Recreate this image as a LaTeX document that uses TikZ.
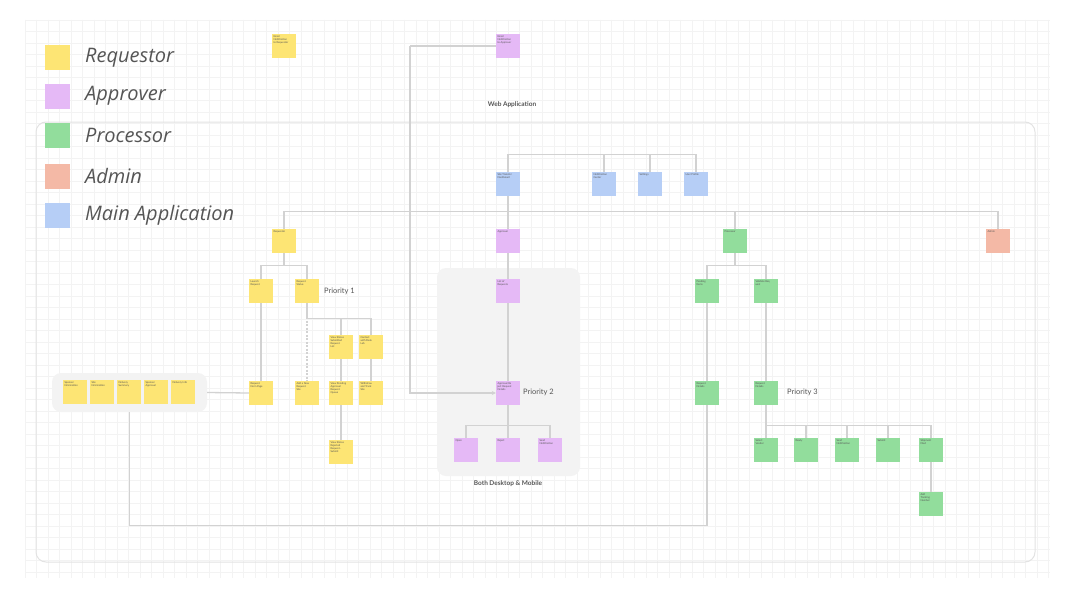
\documentclass[tikz,border=0pt]{standalone}
\usepackage{fontspec}
\setmainfont{Lato}
\newfontfamily\legfont{Open Sans}
\usetikzlibrary{arrows.meta}
\definecolor{cyel}{HTML}{FDE574}
\definecolor{cpur}{HTML}{E5B9F6}
\definecolor{cgrn}{HTML}{92DD9C}
\definecolor{csal}{HTML}{F4B9A6}
\definecolor{cblu}{HTML}{B6CEF6}
\definecolor{cline}{HTML}{D2D2D2}
\definecolor{cgrid}{HTML}{F3F3F3}
\definecolor{cframe}{HTML}{E3E3E3}
\definecolor{cgroup}{HTML}{F3F3F3}
\definecolor{ctxt}{HTML}{555555}
\newcommand\stk[1]{\parbox[t][21pt][t]{21pt}{\raggedright\fontsize{2.6}{3.1}\selectfont #1}}
\tikzset{
  sticky/.style={rectangle, minimum width=24pt, minimum height=24pt, inner sep=0pt, text=ctxt},
  ys/.style={sticky, fill=cyel},
  ps/.style={sticky, fill=cpur},
  gs/.style={sticky, fill=cgrn},
  ss/.style={sticky, fill=csal},
  bs/.style={sticky, fill=cblu},
  conn/.style={draw=cline, line width=1.3pt},
  legbox/.style={rectangle, minimum width=25pt, minimum height=25pt, inner sep=0pt},
  legtxt/.style={anchor=west, inner sep=0pt, text=ctxt, font=\legfont\fontsize{20}{22}\selectfont\itshape},
  lbl/.style={inner sep=0pt, text=ctxt, font=\fontsize{6.5}{8}\selectfont},
  prio/.style={inner sep=0pt, text=ctxt, font=\fontsize{7.5}{9}\selectfont}
}
\begin{document}
\begin{tikzpicture}[x=1pt,y=-1pt]
\useasboundingbox (0,0) rectangle (1078,602);
\fill[white] (0,0) rectangle (1078,602);
% grid background
\foreach \gx in {25,36.5,...,1050} {\draw[cgrid, line width=0.5pt] (\gx,20) -- (\gx,578);}
\foreach \gy in {20,31.5,...,578} {\draw[cgrid, line width=0.5pt] (25,\gy) -- (1050,\gy);}
% outer frame
\draw[cframe, line width=1pt, rounded corners=10pt] (36,122) rectangle (1035,562);
% group boxes
\node[fill=cgroup, rounded corners=9pt, minimum width=143pt, minimum height=208pt, inner sep=0pt] (agrp) at (508.5,372) {};
\node[fill=cgroup, rounded corners=9pt, minimum width=155pt, minimum height=39pt, inner sep=0pt] (lgrp) at (129.5,392.5) {};
% legend
\node[legbox, fill=cyel] (l1) at (57.5,57.5) {};
\node[legbox, fill=cpur] (l2) at (57.5,96) {};
\node[legbox, fill=cgrn] (l3) at (57.5,135) {};
\node[legbox, fill=csal] (l4) at (57.5,176) {};
\node[legbox, fill=cblu] (l5) at (57.5,215) {};
\node[legtxt] (t1) at (85,57.5) {Requestor};
\node[legtxt] (t2) at (85,96) {Approver};
\node[legtxt] (t3) at (85,135) {Processor};
\node[legtxt] (t4) at (85,176) {Admin};
\node[legtxt] (t5) at (85,215) {Main Application};
% labels
\node[lbl, font=\fontsize{6.5}{8}\selectfont\bfseries] (webapp) at (512,105) {Web Application};
\node[lbl, font=\fontsize{6.5}{8}\selectfont\bfseries] (both) at (508,484) {Both Desktop \& Mobile};
\node[prio, anchor=west] (p1) at (324,291) {Priority 1};
\node[prio, anchor=west] (p2) at (523,392) {Priority 2};
\node[prio, anchor=west] (p3) at (787,392) {Priority 3};
% top stickies
\node[ys] (tl) at (284,46) {\stk{Email\\Notification\\to Requestor}};
\node[ps] (ea) at (508,46) {\stk{Email\\Notification\\to Approver}};
% blue row
\node[bs] (b1) at (508,184) {\stk{Site Transfer\\Dashboard}};
\node[bs] (b2) at (604,184) {\stk{Notification\\Center}};
\node[bs] (b3) at (650,184) {\stk{Settings}};
\node[bs] (b4) at (696,184) {\stk{User Profile}};
% level row
\node[ys] (req) at (284,241) {\stk{Requestor}};
\node[ps] (appr) at (508,241) {\stk{Approver}};
\node[gs] (proc) at (735,241) {\stk{Processor}};
\node[ss] (admin) at (998,241) {\stk{Admin}};
% requestor subtree
\node[ys] (rA) at (261,291) {\stk{Launch\\Request}};
\node[ys] (rB) at (307,291) {\stk{Request\\Status}};
\node[ys] (rC) at (341,347) {\stk{View Status\\Submitted\\Request\\List}};
\node[ys] (rD) at (371,347) {\stk{Contact\\with Desk\\Lab}};
\node[ys] (rE) at (261,393) {\stk{Request\\Form Page}};
\node[ys] (rF) at (307,393) {\stk{Add a New\\Request\\Site}};
\node[ys] (rG) at (341,393) {\stk{View Pending\\Approval\\Request\\Queue}};
\node[ys] (rH) at (371,393) {\stk{Withdraw\\and Track\\Site}};
\node[ys] (rI) at (341,452) {\stk{View Status\\Rejected\\Request -\\Submit}};
% left group
\node[ys] (g1) at (75,392) {\stk{Sponsor\\Information}};
\node[ys] (g2) at (102,392) {\stk{Site\\Information}};
\node[ys] (g3) at (129,392) {\stk{Delivery\\Summary}};
\node[ys] (g4) at (156,392) {\stk{Sponsor\\Approval}};
\node[ys] (g5) at (183,392) {\stk{Delivery Info}};
% approver subtree
\node[ps] (aA) at (508,291) {\stk{List of\\Requests}};
\node[ps] (aB) at (508,393) {\stk{Approve/Re\\ject Request\\Details}};
\node[ps] (aC) at (466,450) {\stk{Open}};
\node[ps] (aD) at (508,450) {\stk{Reject}};
\node[ps] (aE) at (550,450) {\stk{Send\\Notification}};
% processor subtree
\node[gs] (pA) at (707,291) {\stk{Pending\\Items}};
\node[gs] (pB) at (766,291) {\stk{Validate Req\\uest}};
\node[gs] (pC) at (707,393) {\stk{Request\\Details}};
\node[gs] (pD) at (766,393) {\stk{Request\\Details}};
\node[gs] (pE) at (766,450) {\stk{Select\\Vendor}};
\node[gs] (pF) at (806,450) {\stk{Ready}};
\node[gs] (pG) at (847,450) {\stk{Send\\Notification}};
\node[gs] (pH) at (888,450) {\stk{Submit}};
\node[gs] (pI) at (931,450) {\stk{Shipment\\Filed}};
\node[gs] (pJ) at (931,504) {\stk{Add\\Tracking\\Number}};
% connectors
\coordinate (bend) at (410,46);
\draw[conn] (ea.west) -- (bend);
\draw[conn, -{Stealth[length=4pt,width=4pt]}] (bend) |- (aB.west);
\draw[conn] (b1.north) -- ++(0,-17) -| (b4.north);
\draw[conn] (b2.north) -- ++(0,-17);
\draw[conn] (b3.north) -- ++(0,-17);
\draw[conn] (b1.south) -- (appr.north);
\draw[conn] (req.north) -- ++(0,-17) -| (admin.north);
\draw[conn] (proc.north) -- ++(0,-17);
\draw[conn] (req.south) -- ++(0,12) -| (rA.north);
\draw[conn] (req.south) -- ++(0,12) -| (rB.north);
\draw[conn] (rA.south) -- (rE.north);
\draw[conn, dash pattern=on 2pt off 1.5pt] (rB.south) -- (rF.north);
\draw[conn] (rB.south) -- ++(0,15) -| (rD.north);
\draw[conn] (rB.south) -- ++(0,15) -| (rC.north);
\draw[conn] (rC.south) -- (rG.north);
\draw[conn] (rG.south) -- (rI.north);
\draw[conn] (rD.south) -- (rH.north);
\draw[conn] (lgrp.east) -- (rE.west);
\draw[conn] (lgrp.south) -- ++(0,113) -| (pC.south);
\draw[conn] (appr.south) -- (aA.north);
\draw[conn] (aA.south) -- (aB.north);
\draw[conn] (aB.south) -- ++(0,20) -| (aC.north);
\draw[conn] (aB.south) -- ++(0,20) -| (aE.north);
\draw[conn] (aB.south) -- (aD.north);
\draw[conn] (proc.south) -- ++(0,12) -| (pA.north);
\draw[conn] (proc.south) -- ++(0,12) -| (pB.north);
\draw[conn] (pA.south) -- (pC.north);
\draw[conn] (pB.south) -- (pD.north);
\draw[conn] (pD.south) -- ++(0,20) -| (pI.north);
\draw[conn] (pD.south) -- ++(0,20) -| (pF.north);
\draw[conn] (pD.south) -- ++(0,20) -| (pG.north);
\draw[conn] (pD.south) -- ++(0,20) -| (pH.north);
\draw[conn] (pD.south) -- (pE.north);
\draw[conn] (pI.south) -- (pJ.north);
\end{tikzpicture}
\end{document}
